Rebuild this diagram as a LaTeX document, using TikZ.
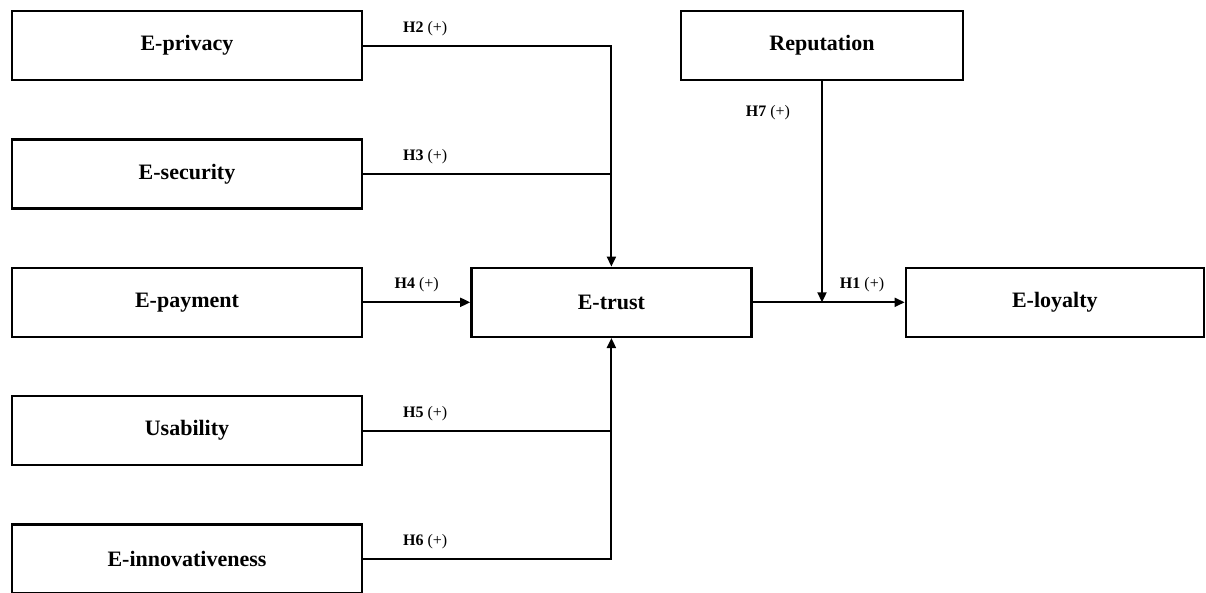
\documentclass[tikz,border=0pt]{standalone}
\usepackage{fontspec}
\setmainfont{Liberation Serif}
\usetikzlibrary{positioning, arrows.meta}

\begin{document}
\begin{tikzpicture}[x=1pt, y=1pt, node distance=57pt, line width=2pt,
        box/.style = {draw, line width=2.4pt, minimum width=350pt, minimum height=69pt,
            font=\fontsize{22}{26}\selectfont\bfseries},
        hyp/.style = {font=\fontsize{16}{19}\selectfont, inner sep=1pt},
        arr/.style = {-{Triangle[length=10pt, width=9pt]}}]
    \useasboundingbox (0,0) rectangle (1206,-592);

    % constructs on the left
    \node[box] (priv) at (187,-45.5) {E-privacy};
    \node[box] (sec) [below=of priv] {E-security};
    \node[box] (pay) [below=of sec] {E-payment};
    \node[box] (usab) [below=of pay] {Usability};
    \node[box] (innov) [below=of usab] {E-innovativeness};

    \node[box, minimum width=280pt] (trust) [right=107pt of pay] {E-trust};
    \node[box, minimum width=298pt] (loyal) [right=152pt of trust] {E-loyalty};
    \node[box, minimum width=282pt] (rep) at (822,-45.5) {Reputation};

    % junctions on the collecting lines
    \coordinate (jsec) at (sec.east -| trust.north);
    \coordinate (jusab) at (usab.east -| trust.south);
    \coordinate (jrep) at (rep.south |- trust.east);

    \draw[arr] (priv.east) -| (trust.north) node [hyp, pos=0.125, above=8pt] {\textbf{H2} (+)};
    \draw (sec.east) -- (jsec) node [hyp, pos=0.25, above=8pt] {\textbf{H3} (+)};
    \draw[arr] (pay.east) -- (trust.west) node [hyp, midway, above=8pt] {\textbf{H4} (+)};
    \draw (usab.east) -- (jusab) node [hyp, pos=0.25, above=8pt] {\textbf{H5} (+)};
    \draw[arr] (innov.east) -| (trust.south) node [hyp, pos=0.125, above=8pt] {\textbf{H6} (+)};

    \draw[arr] (trust.east) -- (loyal.west) node [hyp, pos=0.72, above=8pt] {\textbf{H1} (+)};
    \draw[arr] (rep.south) -- (jrep) node [hyp, pos=0.14, left=30pt] {\textbf{H7} (+)};
\end{tikzpicture}
\end{document}
